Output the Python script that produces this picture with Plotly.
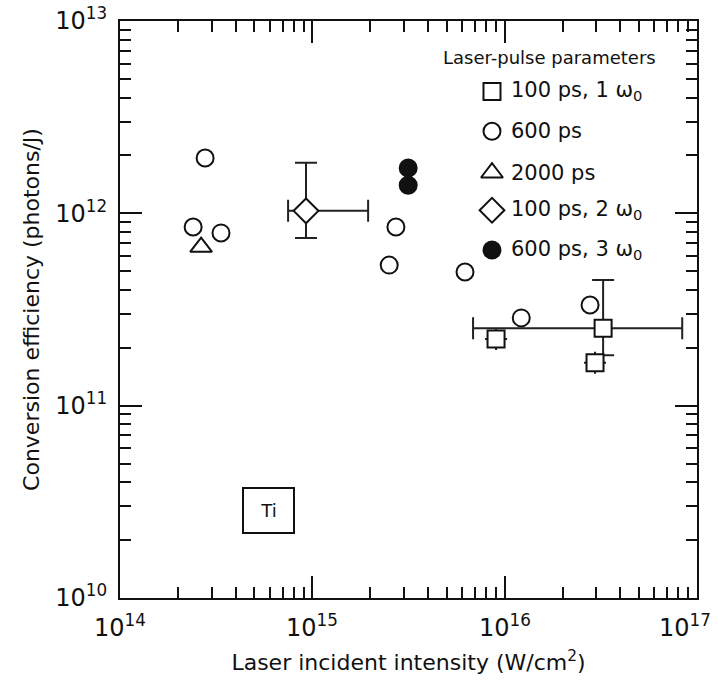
import math
import plotly.graph_objects as go

# Conversion efficiency vs. laser incident intensity (Ti target)

# 100 ps, 1 omega0 (squares)
sq_x = [9.02e15, 3.25e16, 2.95e16]
sq_y = [2.22e11, 2.53e11, 1.67e11]
sq_x_lo = [None, 6.85e15, None]
sq_x_hi = [None, 8.38e16, None]
sq_y_lo = [None, 1.83e11, None]
sq_y_hi = [None, 4.50e11, None]

# 600 ps (open circles)
c_x = [2.77e14, 2.40e14, 3.35e14, 2.72e15, 2.51e15, 6.22e15, 1.22e16, 2.78e16]
c_y = [1.94e12, 8.49e11, 7.91e11, 8.49e11, 5.38e11, 4.95e11, 2.86e11, 3.34e11]

# 2000 ps (triangle)
t_x = [2.64e14]
t_y = [6.68e11]

# 100 ps, 2 omega0 (diamond)
d_x = [9.27e14]
d_y = [1.03e12]
d_x_lo = [7.48e14]
d_x_hi = [1.95e15]
d_y_lo = [7.45e11]
d_y_hi = [1.83e12]

# 600 ps, 3 omega0 (filled circles)
f_x = [3.15e15, 3.15e15]
f_y = [1.72e12, 1.40e12]

x_ticks = [1e14, 1e15, 1e16, 1e17]
x_tick_text = ["10<sup>14</sup>", "10<sup>15</sup>", "10<sup>16</sup>", "10<sup>17</sup>"]
y_ticks = [1e10, 1e11, 1e12, 1e13]
y_tick_text = ["10<sup>10</sup>", "10<sup>11</sup>", "10<sup>12</sup>", "10<sup>13</sup>"]

legend_labels = [
    "100 ps, 1 ω<sub>0</sub>",
    "600 ps",
    "2000 ps",
    "100 ps, 2 ω<sub>0</sub>",
    "600 ps, 3 ω<sub>0</sub>",
]
legend_title = "Laser-pulse parameters"
target_label = "Ti"


def minus(vals, lows):
    return [(v - lo) if lo is not None else 0 for v, lo in zip(vals, lows)]


def plus(vals, highs):
    return [(hi - v) if hi is not None else 0 for v, hi in zip(vals, highs)]


def minor_ticks(lo_exp, hi_exp):
    return [m * 10.0 ** e for e in range(lo_exp, hi_exp) for m in range(2, 10)]


FONT = "DejaVu Sans"
INK = "#111111"
MSIZE = 17
MLINE = dict(color=INK, width=2)

symbols = ["square", "circle", "triangle-up", "diamond", "circle"]
fills = ["white", "white", "white", "white", INK]
sizes = [MSIZE, MSIZE, MSIZE + 2, MSIZE + 2, MSIZE]
series = [(sq_x, sq_y), (c_x, c_y), (t_x, t_y), (d_x, d_y), (f_x, f_y)]
errors = {
    0: (sq_x_lo, sq_x_hi, sq_y_lo, sq_y_hi),
    3: (d_x_lo, d_x_hi, d_y_lo, d_y_hi),
}

fig = go.Figure()

err_style = dict(type="data", symmetric=False, color="#222222", thickness=2, width=11)

for i, (xs, ys) in enumerate(series):
    kw = {}
    if i in errors:
        xlo, xhi, ylo, yhi = errors[i]
        kw["error_x"] = dict(array=plus(xs, xhi), arrayminus=minus(xs, xlo), **err_style)
        kw["error_y"] = dict(array=plus(ys, yhi), arrayminus=minus(ys, ylo), **err_style)
    fig.add_trace(go.Scatter(
        x=xs, y=ys, mode="markers",
        marker=dict(symbol=symbols[i], size=sizes[i], color=fills[i], line=MLINE),
        showlegend=False, **kw,
    ))

# Hand-placed key drawn on an overlay axis spanning the plot area (0..1)
key_x = 0.6447
key_text_x = 0.675
key_y = [0.878, 0.809, 0.737, 0.672, 0.603]
for i, yy in enumerate(key_y):
    fig.add_trace(go.Scatter(
        x=[key_x], y=[yy], mode="markers",
        xaxis="x2", yaxis="y2",
        marker=dict(symbol=symbols[i], size=sizes[i], color=fills[i], line=MLINE),
        showlegend=False, hoverinfo="skip",
    ))

annotations = []
for yy, lab in zip(key_y, legend_labels):
    annotations.append(dict(
        x=key_text_x, y=yy, xref="x2", yref="y2", text=lab, showarrow=False,
        xanchor="left", yanchor="middle",
        font=dict(family=FONT, size=21, color=INK),
    ))
annotations.append(dict(
    x=0.745, y=0.9376, xref="x2", yref="y2", text=legend_title, showarrow=False,
    xanchor="center", yanchor="middle",
    font=dict(family=FONT, size=18, color=INK),
))
annotations.append(dict(
    x=0.2565, y=0.1525, xref="x2", yref="y2", text=target_label, showarrow=False,
    xanchor="center", yanchor="middle", width=31, height=25,
    font=dict(family=FONT, size=18, color=INK),
    bordercolor=INK, borderwidth=2, borderpad=9, bgcolor="white",
))

# x tick labels as annotations so the last one can sit inside the page edge
for k, (tv, tt) in enumerate(zip(x_ticks, x_tick_text)):
    last = k == len(x_ticks) - 1
    annotations.append(dict(
        x=math.log10(tv), y=0, xref="x", yref="paper", text=tt, showarrow=False,
        xanchor="right" if last else "center", yanchor="top",
        xshift=16 if last else 0, yshift=-10,
        font=dict(family=FONT, size=24, color=INK),
    ))

axis_common = dict(
    type="log", showgrid=False, zeroline=False, automargin=False,
    showline=True, linecolor=INK, linewidth=2, mirror="ticks",
    ticks="inside", ticklen=22, tickwidth=1.5, tickcolor=INK,
    tickfont=dict(family=FONT, size=24, color=INK),
)

fig.update_layout(
    width=718, height=687,
    margin=dict(l=120, r=21, t=21, b=89),
    paper_bgcolor="white", plot_bgcolor="white",
    xaxis=dict(
        range=[13.9999, 17.0001], tickvals=x_ticks, showticklabels=False,
        minor=dict(tickvals=minor_ticks(14, 17), ticks="inside", ticklen=11,
                   tickwidth=1.5, tickcolor=INK, showgrid=False),
        title=dict(text="Laser incident intensity (W/cm<sup>2</sup>)",
                   font=dict(family=FONT, size=22, color=INK), standoff=56),
        **axis_common,
    ),
    yaxis=dict(
        range=[9.9999, 13.0001], tickvals=y_ticks, ticktext=y_tick_text,
        ticklabelstandoff=6,
        minor=dict(tickvals=minor_ticks(10, 13), ticks="inside", ticklen=11,
                   tickwidth=1.5, tickcolor=INK, showgrid=False),
        title=dict(text="Conversion efficiency (photons/J)",
                   font=dict(family=FONT, size=22, color=INK), standoff=10),
        **axis_common,
    ),
    xaxis2=dict(range=[0, 1], overlaying="x", visible=False, fixedrange=True),
    yaxis2=dict(range=[0, 1], overlaying="y", visible=False, fixedrange=True),
    annotations=annotations,
    showlegend=False,
)

fig.write_html("out.html")
